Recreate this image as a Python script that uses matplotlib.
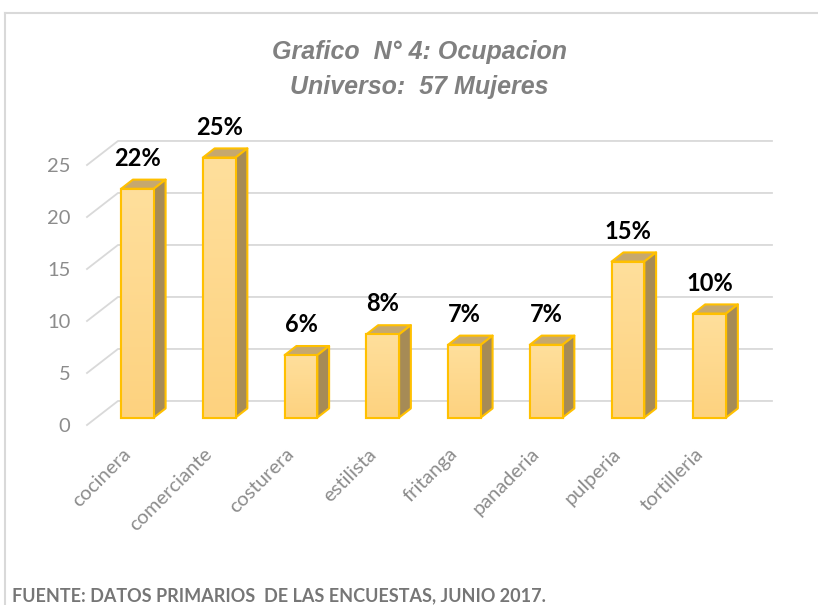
import matplotlib
matplotlib.use("Agg")
import matplotlib.pyplot as plt
import numpy as np
from matplotlib.patches import Polygon
from matplotlib.lines import Line2D

ocupaciones = ["cocinera", "comerciante", "costurera", "estilista",
               "fritanga", "panaderia", "pulperia", "tortilleria"]
porcentajes = [22, 25, 6, 8, 7, 7, 15, 10]
y_ticks = [0, 5, 10, 15, 20, 25]

# fake 3d: depth of the floor in data units, bar sits between f0 and f1
DX, DY = 0.379, 2.31
F0, F1 = 0.31, 0.69
BAR_W = 0.40

fig = plt.figure(figsize=(8.18, 6.05), dpi=100)
ax = fig.add_axes([87 / 818, (605 - 425) / 605, 654 / 818, 260 / 605])
ax.set_xlim(-0.5, 7.5)
ax.set_ylim(0, 25)
for s in ax.spines.values():
    s.set_visible(False)

# walls / gridlines
for v in y_ticks:
    ax.plot([-0.5, -0.5 + DX, 7.5 + DX], [v, v + DY, v + DY],
            color="#d9d9d9", lw=1.3, clip_on=False, zorder=0)

grad = np.linspace(0, 1, 100).reshape(-1, 1)
cmap = matplotlib.colors.LinearSegmentedColormap.from_list(
    "amb", ["#fdd27f", "#ffdf9c"])

edge = "#ffc000"
d, dd = (F1 - F0) * DX, (F1 - F0) * DY
for i, v in enumerate(porcentajes):
    xc = i + F0 * DX
    yb = F0 * DY
    x0, x1 = xc - BAR_W / 2, xc + BAR_W / 2
    yt = yb + v
    front = ax.bar(xc, v, bottom=yb, width=BAR_W, color="#fed98e",
                   edgecolor=edge, lw=1.5, zorder=3, clip_on=False)[0]
    im = ax.imshow(grad, extent=[x0, x1, yb, yt], origin="lower", cmap=cmap,
                   aspect="auto", zorder=3.1, clip_on=False)
    im.set_clip_path(front)
    ax.add_patch(Polygon([(x0, yt), (x1, yt), (x1 + d, yt + dd), (x0 + d, yt + dd)],
                         closed=True, facecolor="#c6a86e", edgecolor=edge,
                         lw=1.5, zorder=3, clip_on=False, joinstyle="round"))
    ax.add_patch(Polygon([(x1, yb), (x1 + d, yb + dd), (x1 + d, yt + dd), (x1, yt)],
                         closed=True, facecolor="#a68b56", edgecolor=edge,
                         lw=1.5, zorder=3, clip_on=False, joinstyle="round"))
    # redraw front outline above gradient
    ax.add_patch(Polygon([(x0, yb), (x1, yb), (x1, yt), (x0, yt)], closed=True,
                         fill=False, edgecolor=edge, lw=1.5, zorder=3.2,
                         clip_on=False))
    ax.text(xc, yt + dd + 0.95, f"{v}%", ha="center", va="bottom",
            fontsize=17, fontweight="bold", family="Lato", color="black",
            zorder=5)

ax.set_xlim(-0.5, 7.5)
ax.set_ylim(0, 25)

ax.set_yticks(y_ticks)
ax.set_yticklabels([str(t) for t in y_ticks], family="Lato", fontsize=14.5,
                   color="#8c8c8c")
ax.set_xticks(range(len(ocupaciones)))
ax.set_xticklabels(ocupaciones, rotation=45, ha="right", va="center",
                   rotation_mode="anchor", family="Lato", fontweight="normal",
                   fontsize=14.5, color="#8c8c8c")
ax.tick_params(axis="y", length=0, pad=12)
ax.tick_params(axis="x", length=0, pad=19)

fig.text(0.513, (605 - 59) / 605, "Grafico  N° 4: Ocupacion", ha="center",
         va="baseline", fontsize=18, fontweight="bold", style="italic",
         family="Liberation Sans", color="#808080")
fig.text(0.513, (605 - 94) / 605, "Universo:  57 Mujeres", ha="center",
         va="baseline", fontsize=18, fontweight="bold", style="italic",
         family="Liberation Sans", color="#808080")

fig.text(12 / 818, (605 - 601) / 605,
         "FUENTE: DATOS PRIMARIOS  DE LAS ENCUESTAS, JUNIO 2017.",
         ha="left", va="baseline", fontsize=13, fontweight="bold",
         family="Lato", color="#767676")

# chart border (only top and left visible)
fig.add_artist(Line2D([5 / 818, 5 / 818], [0, 1 - 13 / 605],
                      transform=fig.transFigure, color="#d9d9d9", lw=1.5))
fig.add_artist(Line2D([5 / 818, 1], [1 - 13 / 605, 1 - 13 / 605],
                      transform=fig.transFigure, color="#d9d9d9", lw=1.5))

fig.savefig("out.png", dpi=100)
